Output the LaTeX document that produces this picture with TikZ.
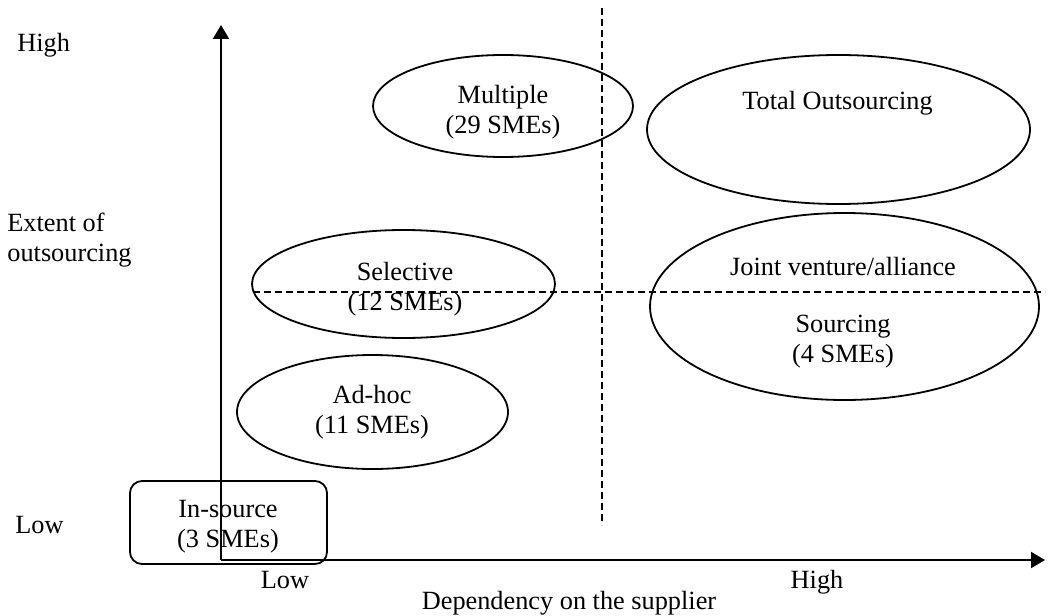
\documentclass[tikz,border=0pt]{standalone}
\usepackage{fontspec}
\setmainfont{Liberation Serif}
\usetikzlibrary{shapes.geometric,arrows.meta}
\begin{document}
\begin{tikzpicture}[x=0.5pt,y=-0.5pt,
  font=\fontsize{13.15}{15}\selectfont,
  every node/.style={inner sep=0pt},
  region/.style={draw,ellipse,line width=0.9pt,inner sep=0pt},
  corebox/.style={draw,rectangle,rounded corners=6pt,line width=0.9pt},
  axis/.style={line width=1pt,-{Triangle[width=8pt,length=7pt]}},
  divider/.style={line width=1pt,dash pattern=on 3.5pt off 2pt},
  txt/.style={align=center}]
  \useasboundingbox (0,0) rectangle (1048,615);

  % axes
  \coordinate (origin) at (221,560);
  \coordinate (ytip) at (221,25);
  \coordinate (xtip) at (1045,560);
  \draw[axis] (origin) -- (ytip);
  \draw[axis] (origin) -- (xtip);

  % quadrant dividers
  \coordinate (vtop) at (602,8);
  \coordinate (vbot) at (602,525);
  \coordinate (hleft) at (253,292);
  \coordinate (hright) at (1045,292);
  \draw[divider] (vtop) -- (vbot);
  \draw[divider] (hleft) -- (hright);

  % outsourcing regions
  \node[region,minimum width=130pt,minimum height=51pt] (multiple) at (503,106) {};
  \node[region,minimum width=191.5pt,minimum height=74.5pt] (total) at (838.5,129.5) {};
  \node[region,minimum width=151.5pt,minimum height=54pt] (selective) at (403.5,284) {};
  \node[region,minimum width=194.5pt,minimum height=93.5pt] (joint) at (844.5,306.5) {};
  \node[region,minimum width=135.5pt,minimum height=57pt] (adhoc) at (372.5,412) {};
  \node[corebox,minimum width=98.5pt,minimum height=41.5pt] (insource) at (228.5,522.5) {};

  % region labels
  \node[txt] (multiple-text) at (503,112) {Multiple\\(29 SMEs)};
  \node[txt] (total-text) at (837.5,103) {Total Outsourcing};
  \node[txt] (selective-text) at (405,289) {Selective\\(12 SMEs)};
  \node[txt] (joint-text) at (843,267) {Joint venture/alliance};
  \node[txt] (sourcing-text) at (843,342) {Sourcing\\(4 SMEs)};
  \node[txt] (adhoc-text) at (372,412) {Ad-hoc\\(11 SMEs)};
  \node[txt] (insource-text) at (228,527) {In-source\\(3 SMEs)};

  % axis labels
  \node[anchor=base west] (y-high) at (17,52) {High};
  \node[anchor=west,align=left] (y-title) at (7,240) {Extent of\\outsourcing};
  \node[anchor=base west] (y-low) at (15,533) {Low};
  \node[anchor=base] (x-low) at (285,588) {Low};
  \node[anchor=base] (x-high) at (817,588) {High};
  \node[anchor=base] (x-title) at (569,609) {Dependency on the supplier};
\end{tikzpicture}
\end{document}
